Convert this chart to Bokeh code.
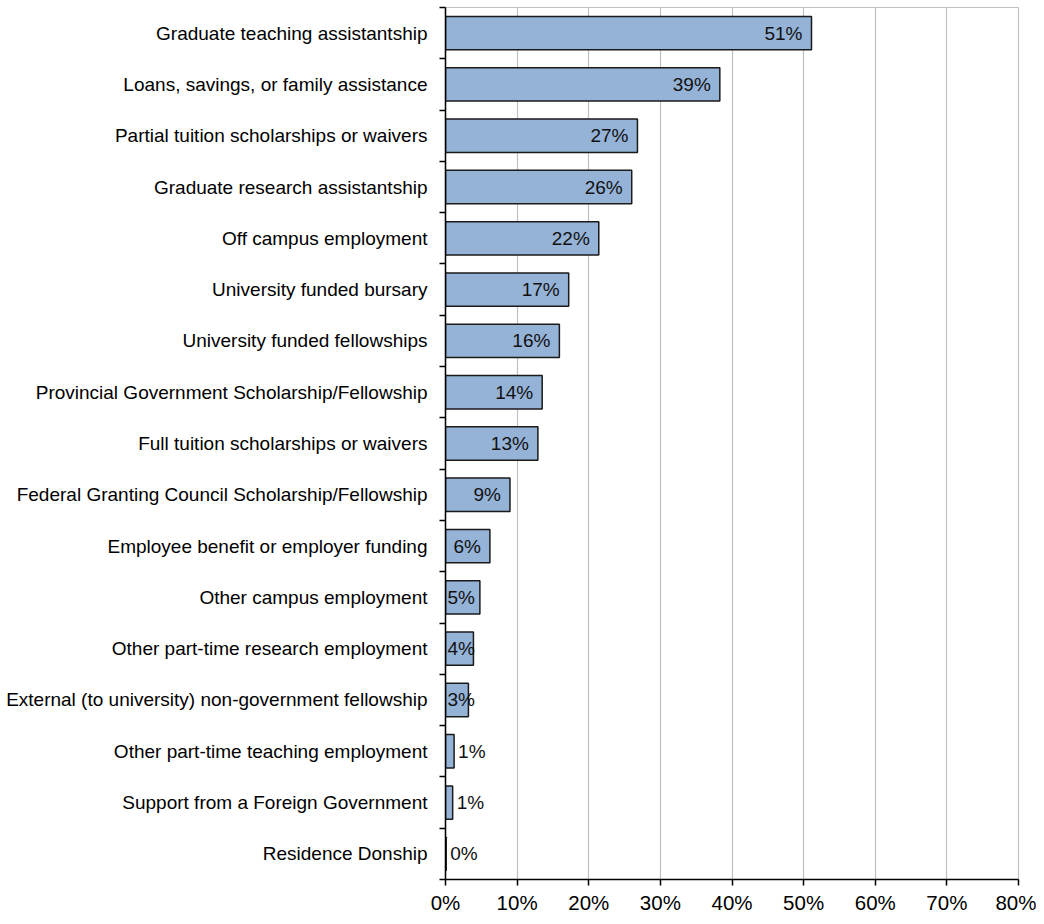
from bokeh.plotting import figure
from bokeh.models import ColumnDataSource, FixedTicker, NumeralTickFormatter, Range1d
from bokeh.core.properties import value
from bokeh.embed import file_html
from bokeh.resources import INLINE

categories = [
    "Graduate teaching assistantship",
    "Loans, savings, or family assistance",
    "Partial tuition scholarships or waivers",
    "Graduate research assistantship",
    "Off campus employment",
    "University funded bursary",
    "University funded fellowships",
    "Provincial Government Scholarship/Fellowship",
    "Full tuition scholarships or waivers",
    "Federal Granting Council Scholarship/Fellowship",
    "Employee benefit or employer funding",
    "Other campus employment",
    "Other part-time research employment",
    "External (to university) non-government fellowship",
    "Other part-time teaching employment",
    "Support from a Foreign Government",
    "Residence Donship",
]
shares = [0.511, 0.383, 0.268, 0.260, 0.214, 0.172, 0.159, 0.135, 0.129, 0.090,
          0.062, 0.048, 0.039, 0.032, 0.012, 0.010, 0.001]
value_labels = ["51%", "39%", "27%", "26%", "22%", "17%", "16%", "14%", "13%", "9%",
                "6%", "5%", "4%", "3%", "1%", "1%", "0%"]
x_ticks = [0.0, 0.1, 0.2, 0.3, 0.4, 0.5, 0.6, 0.7, 0.8]

n = len(categories)
ypos = [n - 1 - i for i in range(n)]

FONT = "Liberation Sans"

p = figure(width=1036, height=916, output_backend="svg", toolbar_location=None,
           x_range=Range1d(0, 0.8), y_range=Range1d(-0.5, n - 0.5),
           min_border_left=445, min_border_right=18, min_border_top=7,
           min_border_bottom=34)

src = ColumnDataSource(dict(y=ypos, right=shares, cat=categories, lab=value_labels))
p.hbar(y="y", left=0, right="right", height=0.65, source=src,
       fill_color="#95B3D7", line_color="#1a1a1a", line_width=1.5)

big = [i for i in range(n) if shares[i] >= 0.05]
mid = [i for i in range(n) if 0.02 <= shares[i] < 0.05]
small = [i for i in range(n) if shares[i] < 0.02]

def sub(idx):
    return ColumnDataSource(dict(y=[ypos[i] for i in idx],
                                 x=[shares[i] for i in idx],
                                 lab=[value_labels[i] for i in idx]))

LBL = "19px"
p.text(x="x", y="y", text="lab", source=sub(big), text_align="right",
       text_baseline="middle", x_offset=-9, text_font=value(FONT),
       text_font_size=LBL, text_color="#111111")
p.text(x=0, y="y", text="lab", source=sub(mid), text_align="left",
       text_baseline="middle", x_offset=2, text_font=value(FONT),
       text_font_size=LBL, text_color="#111111")
p.text(x="x", y="y", text="lab", source=sub(small), text_align="left",
       text_baseline="middle", x_offset=4, text_font=value(FONT),
       text_font_size=LBL, text_color="#111111")

# x axis
p.xaxis.ticker = FixedTicker(ticks=x_ticks)
p.xaxis.formatter = NumeralTickFormatter(format="0%")
p.xaxis.major_label_text_font = FONT
p.xaxis.major_label_text_font_size = "20.5px"
p.xaxis.major_label_text_color = "#000000"
p.xaxis.axis_line_color = "#000000"
p.xaxis.axis_line_width = 1.5
p.xaxis.major_tick_line_color = "#000000"
p.xaxis.major_tick_line_width = 1.5
p.xaxis.major_tick_out = 6
p.xaxis.major_tick_in = 0
p.xaxis.minor_tick_line_color = None
p.xaxis.major_label_standoff = 5

# y axis
p.yaxis.ticker = FixedTicker(ticks=ypos, minor_ticks=[k - 0.5 for k in range(n + 1)])
p.yaxis.major_label_overrides = {ypos[i]: categories[i] for i in range(n)}
p.yaxis.major_label_text_font = FONT
p.yaxis.major_label_text_font_size = "19px"
p.yaxis.major_label_text_color = "#000000"
p.yaxis.major_tick_out = 0
p.yaxis.major_tick_in = 0
p.yaxis.minor_tick_out = 6
p.yaxis.minor_tick_in = 0
p.yaxis.minor_tick_line_color = "#000000"
p.yaxis.minor_tick_line_width = 1.5
p.yaxis.axis_line_color = "#000000"
p.yaxis.axis_line_width = 1.5
p.yaxis.major_label_standoff = 12

p.xgrid.grid_line_color = "#c0c0c0"
p.xgrid.grid_line_width = 1.2
p.ygrid.grid_line_color = None
p.outline_line_color = "#c0c0c0"
p.outline_line_width = 1.2
p.background_fill_color = "white"
p.border_fill_color = "white"

open("out.html", "w").write(file_html(p, INLINE))
